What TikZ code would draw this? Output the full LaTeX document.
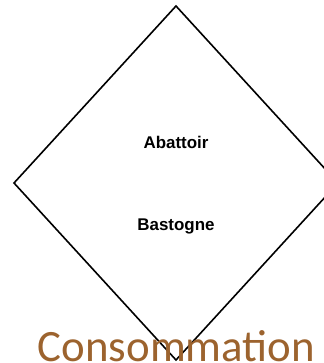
\documentclass[tikz,border=0pt]{standalone}
\usepackage{fontspec}
\setmainfont{Liberation Sans}
\newfontfamily\carlito{Carlito}
\definecolor{brownlabel}{RGB}{156,99,46}
\begin{document}
\begin{tikzpicture}[x=1bp,y=-1bp,
  inlabel/.style={font=\fontsize{17}{20}\selectfont\bfseries, inner sep=0pt},
  outlabel/.style={font=\carlito\fontsize{45}{50}\selectfont, text=brownlabel, inner sep=0pt, anchor=base},
  edge/.style={draw=black, line width=1.6bp, line join=miter}]
\useasboundingbox (0,0) rectangle (324,363);
\clip (0,0) rectangle (324,363);
\fill[white] (0,0) rectangle (324,363);
\coordinate (top) at (176,6);
\coordinate (left) at (14,183);
\coordinate (right) at (338,183);
\coordinate (bottom) at (176,360);
\draw[edge] (top) -- (right) -- (bottom) -- (left) -- cycle;
\node[inlabel] (abattoir) at (176,142) {Abattoir};
\node[inlabel] (bastogne) at (176,226) {Bastogne};
\node[outlabel] (conso) at (176.5,361.5) {Consommation};
\end{tikzpicture}
\end{document}
